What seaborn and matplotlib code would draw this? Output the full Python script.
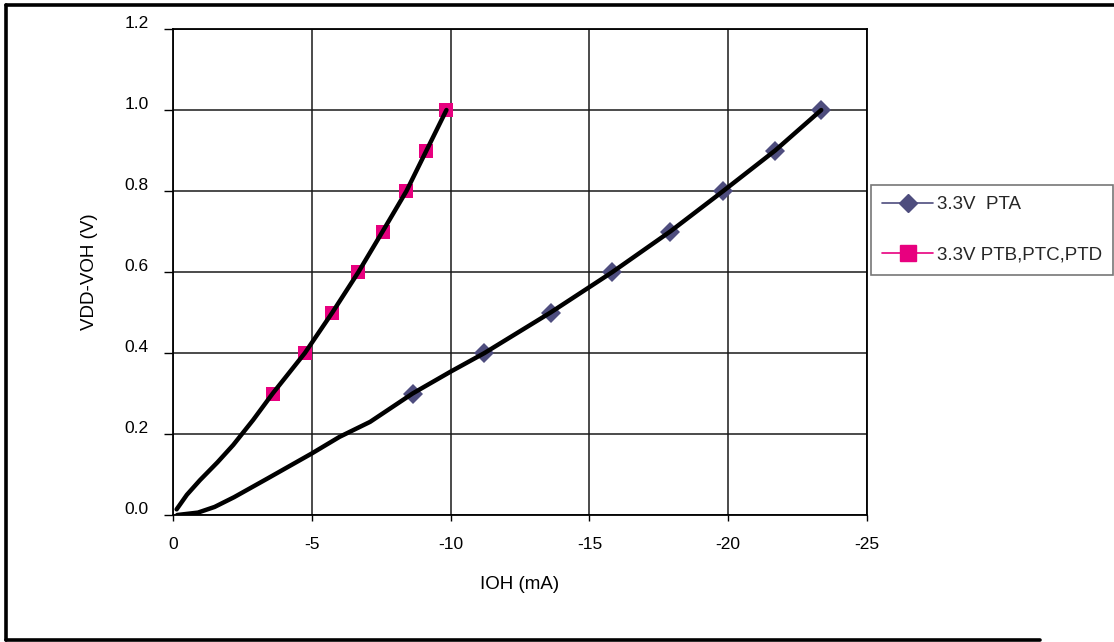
import matplotlib.pyplot as plt
import matplotlib.transforms as mtransforms
import pandas as pd
import seaborn as sns
from matplotlib.lines import Line2D


# measured curves (IOH in mA, VDD-VOH in V)
PTA_CURVE_IOH = [-0.15, -0.9, -1.5, -2.2, -3.4, -5.0, -6.0, -7.1, -8.63, -10.0,
                 -11.22, -13.6, -15.83, -17.91, -19.82, -21.69, -23.35]
PTA_CURVE_V = [0.0, 0.006, 0.02, 0.044, 0.09, 0.152, 0.193, 0.23, 0.30, 0.354,
               0.40, 0.50, 0.60, 0.70, 0.80, 0.90, 1.00]

PTB_CURVE_IOH = [-0.13, -0.5, -0.97, -1.6, -2.17, -2.89, -3.59, -4.75, -5.74,
                 -6.68, -7.55, -8.41, -9.13, -9.85]
PTB_CURVE_V = [0.014, 0.05, 0.086, 0.13, 0.173, 0.235, 0.30, 0.40, 0.50,
               0.60, 0.70, 0.80, 0.90, 1.00]

# marker points
PTA_IOH = [-8.63, -11.22, -13.6, -15.83, -17.91, -19.82, -21.69, -23.35]
PTA_V = [0.3, 0.4, 0.5, 0.6, 0.7, 0.8, 0.9, 1.0]
PTB_IOH = [-3.59, -4.75, -5.74, -6.68, -7.55, -8.41, -9.13, -9.85]
PTB_V = [0.3, 0.4, 0.5, 0.6, 0.7, 0.8, 0.9, 1.0]

SERIES_LABELS = ["3.3V  PTA", "3.3V PTB,PTC,PTD"]
X_TICKS = [0, -5, -10, -15, -20, -25]
Y_TICKS = [0.0, 0.2, 0.4, 0.6, 0.8, 1.0, 1.2]

PTA_COLOR = "#4E4D7E"
PTB_COLOR = "#E8007F"


def main() -> None:
    sns.set_theme(style="white")
    plt.rcParams["font.family"] = ["Liberation Sans", "DejaVu Sans"]

    fig = plt.figure(figsize=(11.14, 6.42), dpi=100)
    ax = fig.add_axes([0.1553, 0.1978, 0.6230, 0.7570])

    markers_df = pd.DataFrame({
        "ioh": PTA_IOH + PTB_IOH,
        "v": PTA_V + PTB_V,
        "series": [SERIES_LABELS[0]] * len(PTA_IOH) + [SERIES_LABELS[1]] * len(PTB_IOH),
    })
    sns.lineplot(
        data=markers_df, x="ioh", y="v", hue="series", style="series",
        palette=[PTA_COLOR, PTB_COLOR], markers=["D", "s"], dashes=False,
        markersize=10.5, markeredgewidth=0, linewidth=1, sort=False,
        legend=False, ax=ax, zorder=2,
    )

    sns.lineplot(x=PTA_CURVE_IOH, y=PTA_CURVE_V, color="black", linewidth=3.2,
                 sort=False, ax=ax, zorder=3)
    sns.lineplot(x=PTB_CURVE_IOH, y=PTB_CURVE_V, color="black", linewidth=3.2,
                 sort=False, ax=ax, zorder=3)

    ax.set_xlim(0, -25)
    ax.set_ylim(0, 1.2)
    ax.set_xticks(X_TICKS)
    ax.set_xticklabels([str(t) for t in X_TICKS])
    ax.set_yticks(Y_TICKS)
    ax.set_yticklabels([f"{t:.1f}" for t in Y_TICKS])
    ax.grid(True, color="#1a1a1a", linewidth=1.1)
    for spine in ax.spines.values():
        spine.set_color("black")
        spine.set_linewidth(1.3)
    ax.tick_params(axis="y", left=True, length=6.5, width=1, pad=11,
                   labelsize=12.5, colors="black")
    ax.tick_params(axis="x", bottom=True, length=4, width=1, pad=12,
                   labelsize=12.5, colors="black")
    shift = mtransforms.ScaledTranslation(0, 0.07, fig.dpi_scale_trans)
    for label in ax.get_yticklabels():
        label.set_transform(label.get_transform() + shift)

    ax.set_xlabel("IOH (mA)", fontsize=13.5, labelpad=17, color="black")
    ax.set_ylabel("VDD-VOH (V)", fontsize=13.5, labelpad=19, color="black")

    handles = [
        Line2D([], [], color=PTA_COLOR, marker="D", markersize=9.5, linewidth=1.2),
        Line2D([], [], color=PTB_COLOR, marker="s", markersize=11, linewidth=1.2),
    ]
    leg = fig.legend(
        handles, SERIES_LABELS, loc="upper left",
        bbox_to_anchor=(871 / 1114, 1 - 185 / 642), fontsize=13.5,
        frameon=True, fancybox=False, edgecolor="#555555", borderpad=0.6,
        handlelength=2.7, handletextpad=0.2, labelspacing=1.75,
        borderaxespad=0,
    )
    leg.get_frame().set_linewidth(1.2)

    # outer chart border
    lw = 2.6
    fig.add_artist(Line2D([6 / 1114, 1], [1 - 5 / 642, 1 - 5 / 642],
                          color="black", linewidth=lw))
    fig.add_artist(Line2D([6 / 1114, 6 / 1114], [1 - 5 / 642, 2 / 642],
                          color="black", linewidth=lw))
    fig.add_artist(Line2D([6 / 1114, 1040 / 1114], [2 / 642, 2 / 642],
                          color="black", linewidth=lw))

    fig.savefig("out.png", dpi=100)
    plt.close(fig)


if __name__ == "__main__":
    main()
